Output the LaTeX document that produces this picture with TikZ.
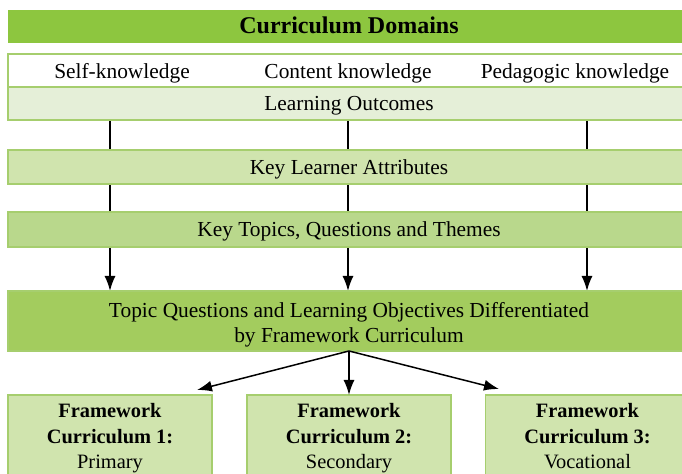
\documentclass[tikz,border=0pt]{standalone}
\usepackage{fontspec}
\setmainfont{Liberation Serif}
\usetikzlibrary{arrows.meta,positioning,backgrounds}
\definecolor{domaingreen}{RGB}{141,198,63}
\definecolor{edgegreen}{RGB}{166,206,110}
\definecolor{outcomegreen}{RGB}{229,239,216}
\definecolor{attrgreen}{RGB}{208,228,174}
\definecolor{themegreen}{RGB}{185,216,140}
\definecolor{topicgreen}{RGB}{163,204,94}

\begin{document}
\begin{tikzpicture}[x=0.5pt, y=-0.5pt,
    txt/.style={text height=9.5pt, text depth=2pt, font=\fontsize{10.7}{12.8}\selectfont},
    bar/.style={txt, draw=edgegreen, line width=0.6pt, minimum width=341pt, inner sep=0pt, outer sep=0pt},
    fwbox/.style={draw=edgegreen, line width=0.6pt, fill=attrgreen, minimum width=102pt, minimum height=45pt, inner sep=0pt, outer sep=0pt, align=center, font=\fontsize{10.2}{12.8}\selectfont},
    flow/.style={-{Latex[length=7.5pt,width=5.5pt]}, line width=0.75pt}]
  \useasboundingbox (0,0) rectangle (682,474);

  % Domains
  \node[bar, fill=domaingreen, draw=none, minimum height=16.5pt, font=\fontsize{12}{14}\selectfont\bfseries] (domains) at (349,26.5) {Curriculum Domains};
  \node[bar, fill=white, minimum height=16.5pt] (know) at (349,70.5) {};
  \node[txt] (self) at (122,71) {Self-knowledge};
  \node[txt] (content) at (348,71) {Content knowledge};
  \node[txt] (pedagogic) at (575,71) {Pedagogic knowledge};
  \node[bar, fill=outcomegreen, minimum height=16.5pt] (outcomes) at (349,103.5) {Learning Outcomes};

  % Attributes and themes
  \node[bar, fill=attrgreen, minimum height=17pt] (attributes) at (349,167) {Key Learner Attributes};
  \node[bar, fill=themegreen, minimum height=17.5pt] (themes) at (349,229.5) {Key Topics, Questions and Themes};
  \node[draw=edgegreen, line width=0.6pt, fill=topicgreen, minimum width=341pt, minimum height=30pt, inner sep=0pt, outer sep=0pt,
        align=center, font=\fontsize{10.7}{12.8}\selectfont] (topic) at (349,321)
    {\rule{0pt}{11.5pt}Topic Questions and Learning Objectives Differentiated\\by Framework Curriculum};

  % Framework curricula
  \node[fwbox] (fw1) at (110,440) {\textbf{Framework}\\\textbf{Curriculum 1:}\\Primary\strut};
  \node[fwbox] (fw2) at (349,440) {\textbf{Framework}\\\textbf{Curriculum 2:}\\Secondary\strut};
  \node[fwbox] (fw3) at (587.5,440) {\textbf{Framework}\\\textbf{Curriculum 3:}\\Vocational\strut};

  % Columns behind the bars
  \coordinate (col1) at (110,0);
  \coordinate (col2) at (348,0);
  \coordinate (col3) at (587,0);
  \begin{scope}[on background layer]
    \foreach \i in {1,2,3}
      \draw[flow] (outcomes.south -| col\i) -- (topic.north -| col\i);
  \end{scope}

  % Split to the curricula
  \coordinate (tip1) at (197,390);
  \coordinate (tip3) at (499,389);
  \draw[flow] (topic.south) -- (tip1);
  \draw[flow] (topic.south) -- (fw2.north);
  \draw[flow] (topic.south) -- (tip3);
\end{tikzpicture}
\end{document}
